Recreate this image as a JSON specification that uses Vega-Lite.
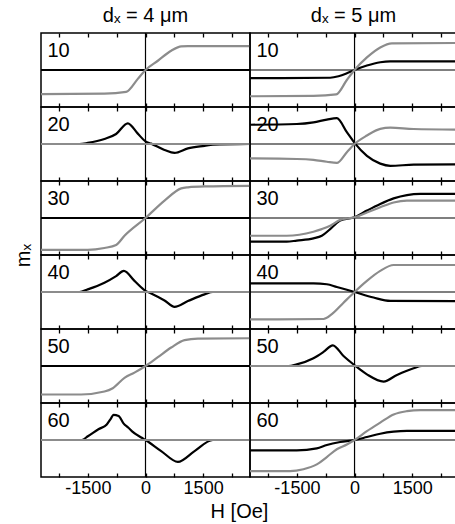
{
"$schema": "https://vega.github.io/schema/vega-lite/v6.json",
"padding": {"left": 13, "top": 5, "right": 0, "bottom": 2},
"background": "white",
"columns": 2, "spacing": 0, "bounds": "flush",
"datasets": {"curves": [
{"d":"4","a":"10","s":"b","H":-2720,"m":0},{"d":"4","a":"10","s":"b","H":2720,"m":0},
{"d":"4","a":"10","s":"g","H":-2720,"m":-0.65},{"d":"4","a":"10","s":"g","H":-1069,"m":-0.64},{"d":"4","a":"10","s":"g","H":-504,"m":-0.59},{"d":"4","a":"10","s":"g","H":-200,"m":-0.24},{"d":"4","a":"10","s":"g","H":0,"m":0},{"d":"4","a":"10","s":"g","H":322,"m":0.25},{"d":"4","a":"10","s":"g","H":669,"m":0.52},{"d":"4","a":"10","s":"g","H":930,"m":0.64},{"d":"4","a":"10","s":"g","H":1104,"m":0.645},{"d":"4","a":"10","s":"g","H":2720,"m":0.645},
{"d":"4","a":"20","s":"b","H":-2720,"m":0},{"d":"4","a":"20","s":"b","H":-1720,"m":0},{"d":"4","a":"20","s":"b","H":-1503,"m":0.03},{"d":"4","a":"20","s":"b","H":-1069,"m":0.135},{"d":"4","a":"20","s":"b","H":-765,"m":0.27},{"d":"4","a":"20","s":"b","H":-461,"m":0.56},{"d":"4","a":"20","s":"b","H":-200,"m":0.28},{"d":"4","a":"20","s":"b","H":0,"m":0.07},{"d":"4","a":"20","s":"b","H":148,"m":0.01},{"d":"4","a":"20","s":"b","H":495,"m":-0.16},{"d":"4","a":"20","s":"b","H":756,"m":-0.24},{"d":"4","a":"20","s":"b","H":1104,"m":-0.12},{"d":"4","a":"20","s":"b","H":1538,"m":-0.05},{"d":"4","a":"20","s":"b","H":1755,"m":-0.02},{"d":"4","a":"20","s":"b","H":2720,"m":0},
{"d":"4","a":"20","s":"g","H":-2720,"m":0},{"d":"4","a":"20","s":"g","H":2720,"m":0},
{"d":"4","a":"30","s":"b","H":-2720,"m":0},{"d":"4","a":"30","s":"b","H":2720,"m":0},
{"d":"4","a":"30","s":"g","H":-2720,"m":-0.86},{"d":"4","a":"30","s":"g","H":-1503,"m":-0.86},{"d":"4","a":"30","s":"g","H":-1069,"m":-0.81},{"d":"4","a":"30","s":"g","H":-765,"m":-0.73},{"d":"4","a":"30","s":"g","H":-547,"m":-0.48},{"d":"4","a":"30","s":"g","H":0,"m":0},{"d":"4","a":"30","s":"g","H":495,"m":0.47},{"d":"4","a":"30","s":"g","H":930,"m":0.8},{"d":"4","a":"30","s":"g","H":1104,"m":0.83},{"d":"4","a":"30","s":"g","H":1538,"m":0.855},{"d":"4","a":"30","s":"g","H":2720,"m":0.87},
{"d":"4","a":"40","s":"b","H":-2720,"m":0},{"d":"4","a":"40","s":"b","H":-1720,"m":0},{"d":"4","a":"40","s":"b","H":-1503,"m":0.07},{"d":"4","a":"40","s":"b","H":-1069,"m":0.25},{"d":"4","a":"40","s":"b","H":-765,"m":0.43},{"d":"4","a":"40","s":"b","H":-565,"m":0.57},{"d":"4","a":"40","s":"b","H":-287,"m":0.3},{"d":"4","a":"40","s":"b","H":0,"m":0.03},{"d":"4","a":"40","s":"b","H":148,"m":-0.04},{"d":"4","a":"40","s":"b","H":495,"m":-0.23},{"d":"4","a":"40","s":"b","H":756,"m":-0.4},{"d":"4","a":"40","s":"b","H":1104,"m":-0.245},{"d":"4","a":"40","s":"b","H":1538,"m":-0.065},{"d":"4","a":"40","s":"b","H":1755,"m":0},{"d":"4","a":"40","s":"b","H":2720,"m":0},
{"d":"4","a":"40","s":"g","H":-2720,"m":0},{"d":"4","a":"40","s":"g","H":2720,"m":0},
{"d":"4","a":"50","s":"b","H":-2720,"m":0},{"d":"4","a":"50","s":"b","H":2720,"m":0},
{"d":"4","a":"50","s":"g","H":-2720,"m":-0.77},{"d":"4","a":"50","s":"g","H":-1677,"m":-0.77},{"d":"4","a":"50","s":"g","H":-1069,"m":-0.69},{"d":"4","a":"50","s":"g","H":-852,"m":-0.6},{"d":"4","a":"50","s":"g","H":-547,"m":-0.32},{"d":"4","a":"50","s":"g","H":-287,"m":-0.18},{"d":"4","a":"50","s":"g","H":0,"m":0},{"d":"4","a":"50","s":"g","H":322,"m":0.24},{"d":"4","a":"50","s":"g","H":669,"m":0.5},{"d":"4","a":"50","s":"g","H":1017,"m":0.7},{"d":"4","a":"50","s":"g","H":1364,"m":0.74},{"d":"4","a":"50","s":"g","H":2720,"m":0.75},
{"d":"4","a":"60","s":"b","H":-2720,"m":0},{"d":"4","a":"60","s":"b","H":-1660,"m":0},{"d":"4","a":"60","s":"b","H":-1500,"m":0.1},{"d":"4","a":"60","s":"b","H":-1225,"m":0.29},{"d":"4","a":"60","s":"b","H":-1008,"m":0.42},{"d":"4","a":"60","s":"b","H":-900,"m":0.58},{"d":"4","a":"60","s":"b","H":-834,"m":0.68},{"d":"4","a":"60","s":"b","H":-700,"m":0.65},{"d":"4","a":"60","s":"b","H":-573,"m":0.45},{"d":"4","a":"60","s":"b","H":-443,"m":0.33},{"d":"4","a":"60","s":"b","H":-357,"m":0.24},{"d":"4","a":"60","s":"b","H":-96,"m":0.06},{"d":"4","a":"60","s":"b","H":0,"m":0},{"d":"4","a":"60","s":"b","H":408,"m":-0.3},{"d":"4","a":"60","s":"b","H":843,"m":-0.59},{"d":"4","a":"60","s":"b","H":1277,"m":-0.3},{"d":"4","a":"60","s":"b","H":1755,"m":0},{"d":"4","a":"60","s":"b","H":2720,"m":0},
{"d":"4","a":"60","s":"g","H":-2720,"m":0},{"d":"4","a":"60","s":"g","H":2720,"m":0},
{"d":"5","a":"10","s":"b","H":-2720,"m":-0.22},{"d":"5","a":"10","s":"b","H":-634,"m":-0.21},{"d":"5","a":"10","s":"b","H":-417,"m":-0.17},{"d":"5","a":"10","s":"b","H":-200,"m":-0.09},{"d":"5","a":"10","s":"b","H":0,"m":0},{"d":"5","a":"10","s":"b","H":322,"m":0.12},{"d":"5","a":"10","s":"b","H":669,"m":0.21},{"d":"5","a":"10","s":"b","H":930,"m":0.235},{"d":"5","a":"10","s":"b","H":2720,"m":0.235},
{"d":"5","a":"10","s":"g","H":-2720,"m":-0.71},{"d":"5","a":"10","s":"g","H":-1069,"m":-0.7},{"d":"5","a":"10","s":"g","H":-478,"m":-0.66},{"d":"5","a":"10","s":"g","H":-200,"m":-0.27},{"d":"5","a":"10","s":"g","H":0,"m":0},{"d":"5","a":"10","s":"g","H":322,"m":0.34},{"d":"5","a":"10","s":"g","H":669,"m":0.61},{"d":"5","a":"10","s":"g","H":973,"m":0.72},{"d":"5","a":"10","s":"g","H":2720,"m":0.73},
{"d":"5","a":"20","s":"b","H":-2720,"m":0.52},{"d":"5","a":"20","s":"b","H":-1503,"m":0.54},{"d":"5","a":"20","s":"b","H":-1069,"m":0.585},{"d":"5","a":"20","s":"b","H":-721,"m":0.66},{"d":"5","a":"20","s":"b","H":-461,"m":0.7},{"d":"5","a":"20","s":"b","H":-200,"m":0.32},{"d":"5","a":"20","s":"b","H":0,"m":0.03},{"d":"5","a":"20","s":"b","H":322,"m":-0.32},{"d":"5","a":"20","s":"b","H":669,"m":-0.53},{"d":"5","a":"20","s":"b","H":930,"m":-0.59},{"d":"5","a":"20","s":"b","H":1538,"m":-0.56},{"d":"5","a":"20","s":"b","H":2720,"m":-0.55},
{"d":"5","a":"20","s":"g","H":-2720,"m":-0.39},{"d":"5","a":"20","s":"g","H":-1503,"m":-0.405},{"d":"5","a":"20","s":"g","H":-1069,"m":-0.43},{"d":"5","a":"20","s":"g","H":-721,"m":-0.48},{"d":"5","a":"20","s":"g","H":-461,"m":-0.51},{"d":"5","a":"20","s":"g","H":-200,"m":-0.22},{"d":"5","a":"20","s":"g","H":0,"m":0},{"d":"5","a":"20","s":"g","H":322,"m":0.23},{"d":"5","a":"20","s":"g","H":669,"m":0.41},{"d":"5","a":"20","s":"g","H":930,"m":0.44},{"d":"5","a":"20","s":"g","H":1538,"m":0.405},{"d":"5","a":"20","s":"g","H":2720,"m":0.39},
{"d":"5","a":"30","s":"b","H":-2720,"m":-0.64},{"d":"5","a":"30","s":"b","H":-1764,"m":-0.64},{"d":"5","a":"30","s":"b","H":-1503,"m":-0.61},{"d":"5","a":"30","s":"b","H":-1069,"m":-0.55},{"d":"5","a":"30","s":"b","H":-852,"m":-0.48},{"d":"5","a":"30","s":"b","H":-634,"m":-0.3},{"d":"5","a":"30","s":"b","H":-374,"m":-0.07},{"d":"5","a":"30","s":"b","H":0,"m":0.02},{"d":"5","a":"30","s":"b","H":322,"m":0.2},{"d":"5","a":"30","s":"b","H":669,"m":0.38},{"d":"5","a":"30","s":"b","H":1017,"m":0.53},{"d":"5","a":"30","s":"b","H":1364,"m":0.62},{"d":"5","a":"30","s":"b","H":1712,"m":0.65},{"d":"5","a":"30","s":"b","H":2720,"m":0.65},
{"d":"5","a":"30","s":"g","H":-2720,"m":-0.48},{"d":"5","a":"30","s":"g","H":-1764,"m":-0.48},{"d":"5","a":"30","s":"g","H":-1069,"m":-0.37},{"d":"5","a":"30","s":"g","H":-852,"m":-0.3},{"d":"5","a":"30","s":"g","H":-634,"m":-0.21},{"d":"5","a":"30","s":"g","H":-374,"m":-0.05},{"d":"5","a":"30","s":"g","H":0,"m":0.02},{"d":"5","a":"30","s":"g","H":322,"m":0.15},{"d":"5","a":"30","s":"g","H":669,"m":0.29},{"d":"5","a":"30","s":"g","H":1017,"m":0.42},{"d":"5","a":"30","s":"g","H":1364,"m":0.47},{"d":"5","a":"30","s":"g","H":2720,"m":0.47},
{"d":"5","a":"40","s":"b","H":-2720,"m":0.235},{"d":"5","a":"40","s":"b","H":-1069,"m":0.235},{"d":"5","a":"40","s":"b","H":-721,"m":0.21},{"d":"5","a":"40","s":"b","H":-461,"m":0.135},{"d":"5","a":"40","s":"b","H":-200,"m":0.06},{"d":"5","a":"40","s":"b","H":0,"m":0},{"d":"5","a":"40","s":"b","H":495,"m":-0.15},{"d":"5","a":"40","s":"b","H":930,"m":-0.24},{"d":"5","a":"40","s":"b","H":2720,"m":-0.245},
{"d":"5","a":"40","s":"g","H":-2720,"m":-0.74},{"d":"5","a":"40","s":"g","H":-808,"m":-0.73},{"d":"5","a":"40","s":"g","H":-591,"m":-0.6},{"d":"5","a":"40","s":"g","H":-287,"m":-0.29},{"d":"5","a":"40","s":"g","H":0,"m":0},{"d":"5","a":"40","s":"g","H":322,"m":0.3},{"d":"5","a":"40","s":"g","H":669,"m":0.57},{"d":"5","a":"40","s":"g","H":1017,"m":0.73},{"d":"5","a":"40","s":"g","H":2720,"m":0.73},
{"d":"5","a":"50","s":"b","H":-2720,"m":0},{"d":"5","a":"50","s":"b","H":-1720,"m":0},{"d":"5","a":"50","s":"b","H":-1503,"m":0.045},{"d":"5","a":"50","s":"b","H":-1069,"m":0.21},{"d":"5","a":"50","s":"b","H":-808,"m":0.38},{"d":"5","a":"50","s":"b","H":-565,"m":0.56},{"d":"5","a":"50","s":"b","H":-287,"m":0.27},{"d":"5","a":"50","s":"b","H":0,"m":0.02},{"d":"5","a":"50","s":"b","H":322,"m":-0.225},{"d":"5","a":"50","s":"b","H":756,"m":-0.42},{"d":"5","a":"50","s":"b","H":1104,"m":-0.24},{"d":"5","a":"50","s":"b","H":1538,"m":-0.06},{"d":"5","a":"50","s":"b","H":1755,"m":0},{"d":"5","a":"50","s":"b","H":2720,"m":0},
{"d":"5","a":"50","s":"g","H":-2720,"m":0},{"d":"5","a":"50","s":"g","H":2720,"m":0},
{"d":"5","a":"60","s":"b","H":-2720,"m":-0.28},{"d":"5","a":"60","s":"b","H":-1503,"m":-0.28},{"d":"5","a":"60","s":"b","H":-982,"m":-0.225},{"d":"5","a":"60","s":"b","H":-721,"m":-0.135},{"d":"5","a":"60","s":"b","H":-374,"m":-0.055},{"d":"5","a":"60","s":"b","H":0,"m":0},{"d":"5","a":"60","s":"b","H":322,"m":0.08},{"d":"5","a":"60","s":"b","H":669,"m":0.17},{"d":"5","a":"60","s":"b","H":1017,"m":0.225},{"d":"5","a":"60","s":"b","H":1364,"m":0.245},{"d":"5","a":"60","s":"b","H":2720,"m":0.245},
{"d":"5","a":"60","s":"g","H":-2720,"m":-0.84},{"d":"5","a":"60","s":"g","H":-1677,"m":-0.84},{"d":"5","a":"60","s":"g","H":-1330,"m":-0.79},{"d":"5","a":"60","s":"g","H":-982,"m":-0.66},{"d":"5","a":"60","s":"g","H":-721,"m":-0.46},{"d":"5","a":"60","s":"g","H":-461,"m":-0.25},{"d":"5","a":"60","s":"g","H":-200,"m":-0.12},{"d":"5","a":"60","s":"g","H":0,"m":0},{"d":"5","a":"60","s":"g","H":322,"m":0.24},{"d":"5","a":"60","s":"g","H":669,"m":0.47},{"d":"5","a":"60","s":"g","H":1017,"m":0.69},{"d":"5","a":"60","s":"g","H":1364,"m":0.78},{"d":"5","a":"60","s":"g","H":1712,"m":0.81},{"d":"5","a":"60","s":"g","H":2720,"m":0.81}
]},
"concat": [
{"width":209,"height":74,"data":{"name":"curves"},"transform":[{"filter":"datum.d === '4' && datum.a === '10'"}],
 "title":{"text":"dₓ = 4 μm"},
 "layer":[
 {"transform":[{"aggregate":[{"op":"count","as":"n"}],"groupby":["a"]}],"mark":{"type":"rule","color":"black","strokeWidth":1.2},"encoding":{"y":{"datum":0,"axis":null}}},
 {"transform":[{"aggregate":[{"op":"count","as":"n"}],"groupby":["a"]}],"mark":{"type":"rule","color":"black","strokeWidth":1.2},"encoding":{"x":{"datum":0,"axis":null}}},
 {"transform":[{"filter":"datum.s === 'b'"}],"mark":{"type":"line","color":"black","strokeWidth":2.2,"interpolate":"monotone","clip":true},"encoding":{"x":{"field":"H","type":"quantitative","scale":{"domain":[-2720,2720],"nice":false,"zero":false},"axis":{"orient":"bottom","values":[-2250,-1500,-750,0,750,1500,2250],"labels":false,"title":null}},"y":{"field":"m","type":"quantitative","scale":{"domain":[-1,1],"nice":false,"zero":false},"axis":null}}},
 {"transform":[{"filter":"datum.s === 'g'"}],"mark":{"type":"line","color":"#8c8c8c","strokeWidth":2.2,"interpolate":"monotone","clip":true},"encoding":{"x":{"field":"H","type":"quantitative","scale":{"domain":[-2720,2720],"nice":false,"zero":false},"axis":{"orient":"top","values":[-2250,-1500,-750,0,750,1500,2250],"labels":false,"title":null}},"y":{"field":"m","type":"quantitative","axis":null}}},
 {"transform":[{"aggregate":[{"op":"count","as":"n"}],"groupby":["a"]}],"mark":{"type":"text","align":"left","baseline":"alphabetic","dx":6.5,"dy":24,"fontSize":20,"font":"Liberation Sans","color":"black"},"encoding":{"x":{"datum":-2720,"axis":null},"y":{"datum":1,"axis":null},"text":{"field":"a"}}}
 ]},
{"width":207,"height":74,"data":{"name":"curves"},"transform":[{"filter":"datum.d === '5' && datum.a === '10'"}],
 "title":{"text":"dₓ = 5 μm"},
 "layer":[
 {"transform":[{"aggregate":[{"op":"count","as":"n"}],"groupby":["a"]}],"mark":{"type":"rule","color":"black","strokeWidth":1.2},"encoding":{"y":{"datum":0,"axis":null}}},
 {"transform":[{"aggregate":[{"op":"count","as":"n"}],"groupby":["a"]}],"mark":{"type":"rule","color":"black","strokeWidth":1.2},"encoding":{"x":{"datum":0,"axis":null}}},
 {"transform":[{"filter":"datum.s === 'b'"}],"mark":{"type":"line","color":"black","strokeWidth":2.2,"interpolate":"monotone","clip":true},"encoding":{"x":{"field":"H","type":"quantitative","scale":{"domain":[-2720,2666],"nice":false,"zero":false},"axis":{"orient":"bottom","values":[-2250,-1500,-750,0,750,1500,2250],"labels":false,"title":null}},"y":{"field":"m","type":"quantitative","scale":{"domain":[-1,1],"nice":false,"zero":false},"axis":null}}},
 {"transform":[{"filter":"datum.s === 'g'"}],"mark":{"type":"line","color":"#8c8c8c","strokeWidth":2.2,"interpolate":"monotone","clip":true},"encoding":{"x":{"field":"H","type":"quantitative","scale":{"domain":[-2720,2666],"nice":false,"zero":false},"axis":{"orient":"top","values":[-2250,-1500,-750,0,750,1500,2250],"labels":false,"title":null}},"y":{"field":"m","type":"quantitative","axis":null}}},
 {"transform":[{"aggregate":[{"op":"count","as":"n"}],"groupby":["a"]}],"mark":{"type":"text","align":"left","baseline":"alphabetic","dx":6.5,"dy":24,"fontSize":20,"font":"Liberation Sans","color":"black"},"encoding":{"x":{"datum":-2720,"axis":null},"y":{"datum":1,"axis":null},"text":{"field":"a"}}}
 ]},
{"width":209,"height":74,"data":{"name":"curves"},"transform":[{"filter":"datum.d === '4' && datum.a === '20'"}],
 "layer":[
 {"transform":[{"aggregate":[{"op":"count","as":"n"}],"groupby":["a"]}],"mark":{"type":"rule","color":"black","strokeWidth":1.2},"encoding":{"y":{"datum":0,"axis":null}}},
 {"transform":[{"aggregate":[{"op":"count","as":"n"}],"groupby":["a"]}],"mark":{"type":"rule","color":"black","strokeWidth":1.2},"encoding":{"x":{"datum":0,"axis":null}}},
 {"transform":[{"filter":"datum.s === 'b'"}],"mark":{"type":"line","color":"black","strokeWidth":2.2,"interpolate":"monotone","clip":true},"encoding":{"x":{"field":"H","type":"quantitative","scale":{"domain":[-2720,2720],"nice":false,"zero":false},"axis":{"orient":"bottom","values":[-2250,-1500,-750,0,750,1500,2250],"labels":false,"title":null}},"y":{"field":"m","type":"quantitative","scale":{"domain":[-1,1],"nice":false,"zero":false},"axis":null}}},
 {"transform":[{"filter":"datum.s === 'g'"}],"mark":{"type":"line","color":"#8c8c8c","strokeWidth":2.2,"interpolate":"monotone","clip":true},"encoding":{"x":{"field":"H","type":"quantitative","scale":{"domain":[-2720,2720],"nice":false,"zero":false},"axis":{"orient":"top","values":[-2250,-1500,-750,0,750,1500,2250],"labels":false,"title":null}},"y":{"field":"m","type":"quantitative","axis":null}}},
 {"transform":[{"aggregate":[{"op":"count","as":"n"}],"groupby":["a"]}],"mark":{"type":"text","align":"left","baseline":"alphabetic","dx":6.5,"dy":24,"fontSize":20,"font":"Liberation Sans","color":"black"},"encoding":{"x":{"datum":-2720,"axis":null},"y":{"datum":1,"axis":null},"text":{"field":"a"}}}
 ]},
{"width":207,"height":74,"data":{"name":"curves"},"transform":[{"filter":"datum.d === '5' && datum.a === '20'"}],
 "layer":[
 {"transform":[{"aggregate":[{"op":"count","as":"n"}],"groupby":["a"]}],"mark":{"type":"rule","color":"black","strokeWidth":1.2},"encoding":{"y":{"datum":0,"axis":null}}},
 {"transform":[{"aggregate":[{"op":"count","as":"n"}],"groupby":["a"]}],"mark":{"type":"rule","color":"black","strokeWidth":1.2},"encoding":{"x":{"datum":0,"axis":null}}},
 {"transform":[{"filter":"datum.s === 'b'"}],"mark":{"type":"line","color":"black","strokeWidth":2.2,"interpolate":"monotone","clip":true},"encoding":{"x":{"field":"H","type":"quantitative","scale":{"domain":[-2720,2666],"nice":false,"zero":false},"axis":{"orient":"bottom","values":[-2250,-1500,-750,0,750,1500,2250],"labels":false,"title":null}},"y":{"field":"m","type":"quantitative","scale":{"domain":[-1,1],"nice":false,"zero":false},"axis":null}}},
 {"transform":[{"filter":"datum.s === 'g'"}],"mark":{"type":"line","color":"#8c8c8c","strokeWidth":2.2,"interpolate":"monotone","clip":true},"encoding":{"x":{"field":"H","type":"quantitative","scale":{"domain":[-2720,2666],"nice":false,"zero":false},"axis":{"orient":"top","values":[-2250,-1500,-750,0,750,1500,2250],"labels":false,"title":null}},"y":{"field":"m","type":"quantitative","axis":null}}},
 {"transform":[{"aggregate":[{"op":"count","as":"n"}],"groupby":["a"]}],"mark":{"type":"text","align":"left","baseline":"alphabetic","dx":6.5,"dy":24,"fontSize":20,"font":"Liberation Sans","color":"black"},"encoding":{"x":{"datum":-2720,"axis":null},"y":{"datum":1,"axis":null},"text":{"field":"a"}}}
 ]},
{"width":209,"height":74,"data":{"name":"curves"},"transform":[{"filter":"datum.d === '4' && datum.a === '30'"}],
 "title":{"text":"mₓ","orient":"left","anchor":"start","align":"center","offset":6},
 "layer":[
 {"transform":[{"aggregate":[{"op":"count","as":"n"}],"groupby":["a"]}],"mark":{"type":"rule","color":"black","strokeWidth":1.2},"encoding":{"y":{"datum":0,"axis":null}}},
 {"transform":[{"aggregate":[{"op":"count","as":"n"}],"groupby":["a"]}],"mark":{"type":"rule","color":"black","strokeWidth":1.2},"encoding":{"x":{"datum":0,"axis":null}}},
 {"transform":[{"filter":"datum.s === 'b'"}],"mark":{"type":"line","color":"black","strokeWidth":2.2,"interpolate":"monotone","clip":true},"encoding":{"x":{"field":"H","type":"quantitative","scale":{"domain":[-2720,2720],"nice":false,"zero":false},"axis":{"orient":"bottom","values":[-2250,-1500,-750,0,750,1500,2250],"labels":false,"title":null}},"y":{"field":"m","type":"quantitative","scale":{"domain":[-1,1],"nice":false,"zero":false},"axis":null}}},
 {"transform":[{"filter":"datum.s === 'g'"}],"mark":{"type":"line","color":"#8c8c8c","strokeWidth":2.2,"interpolate":"monotone","clip":true},"encoding":{"x":{"field":"H","type":"quantitative","scale":{"domain":[-2720,2720],"nice":false,"zero":false},"axis":{"orient":"top","values":[-2250,-1500,-750,0,750,1500,2250],"labels":false,"title":null}},"y":{"field":"m","type":"quantitative","axis":null}}},
 {"transform":[{"aggregate":[{"op":"count","as":"n"}],"groupby":["a"]}],"mark":{"type":"text","align":"left","baseline":"alphabetic","dx":6.5,"dy":24,"fontSize":20,"font":"Liberation Sans","color":"black"},"encoding":{"x":{"datum":-2720,"axis":null},"y":{"datum":1,"axis":null},"text":{"field":"a"}}}
 ]},
{"width":207,"height":74,"data":{"name":"curves"},"transform":[{"filter":"datum.d === '5' && datum.a === '30'"}],
 "layer":[
 {"transform":[{"aggregate":[{"op":"count","as":"n"}],"groupby":["a"]}],"mark":{"type":"rule","color":"black","strokeWidth":1.2},"encoding":{"y":{"datum":0,"axis":null}}},
 {"transform":[{"aggregate":[{"op":"count","as":"n"}],"groupby":["a"]}],"mark":{"type":"rule","color":"black","strokeWidth":1.2},"encoding":{"x":{"datum":0,"axis":null}}},
 {"transform":[{"filter":"datum.s === 'b'"}],"mark":{"type":"line","color":"black","strokeWidth":2.2,"interpolate":"monotone","clip":true},"encoding":{"x":{"field":"H","type":"quantitative","scale":{"domain":[-2720,2666],"nice":false,"zero":false},"axis":{"orient":"bottom","values":[-2250,-1500,-750,0,750,1500,2250],"labels":false,"title":null}},"y":{"field":"m","type":"quantitative","scale":{"domain":[-1,1],"nice":false,"zero":false},"axis":null}}},
 {"transform":[{"filter":"datum.s === 'g'"}],"mark":{"type":"line","color":"#8c8c8c","strokeWidth":2.2,"interpolate":"monotone","clip":true},"encoding":{"x":{"field":"H","type":"quantitative","scale":{"domain":[-2720,2666],"nice":false,"zero":false},"axis":{"orient":"top","values":[-2250,-1500,-750,0,750,1500,2250],"labels":false,"title":null}},"y":{"field":"m","type":"quantitative","axis":null}}},
 {"transform":[{"aggregate":[{"op":"count","as":"n"}],"groupby":["a"]}],"mark":{"type":"text","align":"left","baseline":"alphabetic","dx":6.5,"dy":24,"fontSize":20,"font":"Liberation Sans","color":"black"},"encoding":{"x":{"datum":-2720,"axis":null},"y":{"datum":1,"axis":null},"text":{"field":"a"}}}
 ]},
{"width":209,"height":74,"data":{"name":"curves"},"transform":[{"filter":"datum.d === '4' && datum.a === '40'"}],
 "layer":[
 {"transform":[{"aggregate":[{"op":"count","as":"n"}],"groupby":["a"]}],"mark":{"type":"rule","color":"black","strokeWidth":1.2},"encoding":{"y":{"datum":0,"axis":null}}},
 {"transform":[{"aggregate":[{"op":"count","as":"n"}],"groupby":["a"]}],"mark":{"type":"rule","color":"black","strokeWidth":1.2},"encoding":{"x":{"datum":0,"axis":null}}},
 {"transform":[{"filter":"datum.s === 'b'"}],"mark":{"type":"line","color":"black","strokeWidth":2.2,"interpolate":"monotone","clip":true},"encoding":{"x":{"field":"H","type":"quantitative","scale":{"domain":[-2720,2720],"nice":false,"zero":false},"axis":{"orient":"bottom","values":[-2250,-1500,-750,0,750,1500,2250],"labels":false,"title":null}},"y":{"field":"m","type":"quantitative","scale":{"domain":[-1,1],"nice":false,"zero":false},"axis":null}}},
 {"transform":[{"filter":"datum.s === 'g'"}],"mark":{"type":"line","color":"#8c8c8c","strokeWidth":2.2,"interpolate":"monotone","clip":true},"encoding":{"x":{"field":"H","type":"quantitative","scale":{"domain":[-2720,2720],"nice":false,"zero":false},"axis":{"orient":"top","values":[-2250,-1500,-750,0,750,1500,2250],"labels":false,"title":null}},"y":{"field":"m","type":"quantitative","axis":null}}},
 {"transform":[{"aggregate":[{"op":"count","as":"n"}],"groupby":["a"]}],"mark":{"type":"text","align":"left","baseline":"alphabetic","dx":6.5,"dy":24,"fontSize":20,"font":"Liberation Sans","color":"black"},"encoding":{"x":{"datum":-2720,"axis":null},"y":{"datum":1,"axis":null},"text":{"field":"a"}}}
 ]},
{"width":207,"height":74,"data":{"name":"curves"},"transform":[{"filter":"datum.d === '5' && datum.a === '40'"}],
 "layer":[
 {"transform":[{"aggregate":[{"op":"count","as":"n"}],"groupby":["a"]}],"mark":{"type":"rule","color":"black","strokeWidth":1.2},"encoding":{"y":{"datum":0,"axis":null}}},
 {"transform":[{"aggregate":[{"op":"count","as":"n"}],"groupby":["a"]}],"mark":{"type":"rule","color":"black","strokeWidth":1.2},"encoding":{"x":{"datum":0,"axis":null}}},
 {"transform":[{"filter":"datum.s === 'b'"}],"mark":{"type":"line","color":"black","strokeWidth":2.2,"interpolate":"monotone","clip":true},"encoding":{"x":{"field":"H","type":"quantitative","scale":{"domain":[-2720,2666],"nice":false,"zero":false},"axis":{"orient":"bottom","values":[-2250,-1500,-750,0,750,1500,2250],"labels":false,"title":null}},"y":{"field":"m","type":"quantitative","scale":{"domain":[-1,1],"nice":false,"zero":false},"axis":null}}},
 {"transform":[{"filter":"datum.s === 'g'"}],"mark":{"type":"line","color":"#8c8c8c","strokeWidth":2.2,"interpolate":"monotone","clip":true},"encoding":{"x":{"field":"H","type":"quantitative","scale":{"domain":[-2720,2666],"nice":false,"zero":false},"axis":{"orient":"top","values":[-2250,-1500,-750,0,750,1500,2250],"labels":false,"title":null}},"y":{"field":"m","type":"quantitative","axis":null}}},
 {"transform":[{"aggregate":[{"op":"count","as":"n"}],"groupby":["a"]}],"mark":{"type":"text","align":"left","baseline":"alphabetic","dx":6.5,"dy":24,"fontSize":20,"font":"Liberation Sans","color":"black"},"encoding":{"x":{"datum":-2720,"axis":null},"y":{"datum":1,"axis":null},"text":{"field":"a"}}}
 ]},
{"width":209,"height":74,"data":{"name":"curves"},"transform":[{"filter":"datum.d === '4' && datum.a === '50'"}],
 "layer":[
 {"transform":[{"aggregate":[{"op":"count","as":"n"}],"groupby":["a"]}],"mark":{"type":"rule","color":"black","strokeWidth":1.2},"encoding":{"y":{"datum":0,"axis":null}}},
 {"transform":[{"aggregate":[{"op":"count","as":"n"}],"groupby":["a"]}],"mark":{"type":"rule","color":"black","strokeWidth":1.2},"encoding":{"x":{"datum":0,"axis":null}}},
 {"transform":[{"filter":"datum.s === 'b'"}],"mark":{"type":"line","color":"black","strokeWidth":2.2,"interpolate":"monotone","clip":true},"encoding":{"x":{"field":"H","type":"quantitative","scale":{"domain":[-2720,2720],"nice":false,"zero":false},"axis":{"orient":"bottom","values":[-2250,-1500,-750,0,750,1500,2250],"labels":false,"title":null}},"y":{"field":"m","type":"quantitative","scale":{"domain":[-1,1],"nice":false,"zero":false},"axis":null}}},
 {"transform":[{"filter":"datum.s === 'g'"}],"mark":{"type":"line","color":"#8c8c8c","strokeWidth":2.2,"interpolate":"monotone","clip":true},"encoding":{"x":{"field":"H","type":"quantitative","scale":{"domain":[-2720,2720],"nice":false,"zero":false},"axis":{"orient":"top","values":[-2250,-1500,-750,0,750,1500,2250],"labels":false,"title":null}},"y":{"field":"m","type":"quantitative","axis":null}}},
 {"transform":[{"aggregate":[{"op":"count","as":"n"}],"groupby":["a"]}],"mark":{"type":"text","align":"left","baseline":"alphabetic","dx":6.5,"dy":24,"fontSize":20,"font":"Liberation Sans","color":"black"},"encoding":{"x":{"datum":-2720,"axis":null},"y":{"datum":1,"axis":null},"text":{"field":"a"}}}
 ]},
{"width":207,"height":74,"data":{"name":"curves"},"transform":[{"filter":"datum.d === '5' && datum.a === '50'"}],
 "layer":[
 {"transform":[{"aggregate":[{"op":"count","as":"n"}],"groupby":["a"]}],"mark":{"type":"rule","color":"black","strokeWidth":1.2},"encoding":{"y":{"datum":0,"axis":null}}},
 {"transform":[{"aggregate":[{"op":"count","as":"n"}],"groupby":["a"]}],"mark":{"type":"rule","color":"black","strokeWidth":1.2},"encoding":{"x":{"datum":0,"axis":null}}},
 {"transform":[{"filter":"datum.s === 'b'"}],"mark":{"type":"line","color":"black","strokeWidth":2.2,"interpolate":"monotone","clip":true},"encoding":{"x":{"field":"H","type":"quantitative","scale":{"domain":[-2720,2666],"nice":false,"zero":false},"axis":{"orient":"bottom","values":[-2250,-1500,-750,0,750,1500,2250],"labels":false,"title":null}},"y":{"field":"m","type":"quantitative","scale":{"domain":[-1,1],"nice":false,"zero":false},"axis":null}}},
 {"transform":[{"filter":"datum.s === 'g'"}],"mark":{"type":"line","color":"#8c8c8c","strokeWidth":2.2,"interpolate":"monotone","clip":true},"encoding":{"x":{"field":"H","type":"quantitative","scale":{"domain":[-2720,2666],"nice":false,"zero":false},"axis":{"orient":"top","values":[-2250,-1500,-750,0,750,1500,2250],"labels":false,"title":null}},"y":{"field":"m","type":"quantitative","axis":null}}},
 {"transform":[{"aggregate":[{"op":"count","as":"n"}],"groupby":["a"]}],"mark":{"type":"text","align":"left","baseline":"alphabetic","dx":6.5,"dy":24,"fontSize":20,"font":"Liberation Sans","color":"black"},"encoding":{"x":{"datum":-2720,"axis":null},"y":{"datum":1,"axis":null},"text":{"field":"a"}}}
 ]},
{"width":209,"height":74,"data":{"name":"curves"},"transform":[{"filter":"datum.d === '4' && datum.a === '60'"}],
 "layer":[
 {"transform":[{"aggregate":[{"op":"count","as":"n"}],"groupby":["a"]}],"mark":{"type":"rule","color":"black","strokeWidth":1.2},"encoding":{"y":{"datum":0,"axis":null}}},
 {"transform":[{"aggregate":[{"op":"count","as":"n"}],"groupby":["a"]}],"mark":{"type":"rule","color":"black","strokeWidth":1.2},"encoding":{"x":{"datum":0,"axis":null}}},
 {"transform":[{"filter":"datum.s === 'b'"}],"mark":{"type":"line","color":"black","strokeWidth":2.2,"interpolate":"monotone","clip":true},"encoding":{"x":{"field":"H","type":"quantitative","scale":{"domain":[-2720,2720],"nice":false,"zero":false},"axis":{"orient":"bottom","values":[-2250,-1500,-750,0,750,1500,2250],"labelExpr":"datum.value % 1500 === 0 ? replace(format(datum.value, 'd'), '\u2212', '-') : ''","labelPadding":6,"title":"H [Oe]","titleX":198}},"y":{"field":"m","type":"quantitative","scale":{"domain":[-1,1],"nice":false,"zero":false},"axis":null}}},
 {"transform":[{"filter":"datum.s === 'g'"}],"mark":{"type":"line","color":"#8c8c8c","strokeWidth":2.2,"interpolate":"monotone","clip":true},"encoding":{"x":{"field":"H","type":"quantitative","scale":{"domain":[-2720,2720],"nice":false,"zero":false},"axis":{"orient":"top","values":[-2250,-1500,-750,0,750,1500,2250],"labels":false,"title":null}},"y":{"field":"m","type":"quantitative","axis":null}}},
 {"transform":[{"aggregate":[{"op":"count","as":"n"}],"groupby":["a"]}],"mark":{"type":"text","align":"left","baseline":"alphabetic","dx":6.5,"dy":24,"fontSize":20,"font":"Liberation Sans","color":"black"},"encoding":{"x":{"datum":-2720,"axis":null},"y":{"datum":1,"axis":null},"text":{"field":"a"}}}
 ]},
{"width":207,"height":74,"data":{"name":"curves"},"transform":[{"filter":"datum.d === '5' && datum.a === '60'"}],
 "layer":[
 {"transform":[{"aggregate":[{"op":"count","as":"n"}],"groupby":["a"]}],"mark":{"type":"rule","color":"black","strokeWidth":1.2},"encoding":{"y":{"datum":0,"axis":null}}},
 {"transform":[{"aggregate":[{"op":"count","as":"n"}],"groupby":["a"]}],"mark":{"type":"rule","color":"black","strokeWidth":1.2},"encoding":{"x":{"datum":0,"axis":null}}},
 {"transform":[{"filter":"datum.s === 'b'"}],"mark":{"type":"line","color":"black","strokeWidth":2.2,"interpolate":"monotone","clip":true},"encoding":{"x":{"field":"H","type":"quantitative","scale":{"domain":[-2720,2666],"nice":false,"zero":false},"axis":{"orient":"bottom","values":[-2250,-1500,-750,0,750,1500,2250],"labelExpr":"datum.value % 1500 === 0 ? replace(format(datum.value, 'd'), '\u2212', '-') : ''","labelPadding":6,"title":null}},"y":{"field":"m","type":"quantitative","scale":{"domain":[-1,1],"nice":false,"zero":false},"axis":null}}},
 {"transform":[{"filter":"datum.s === 'g'"}],"mark":{"type":"line","color":"#8c8c8c","strokeWidth":2.2,"interpolate":"monotone","clip":true},"encoding":{"x":{"field":"H","type":"quantitative","scale":{"domain":[-2720,2666],"nice":false,"zero":false},"axis":{"orient":"top","values":[-2250,-1500,-750,0,750,1500,2250],"labels":false,"title":null}},"y":{"field":"m","type":"quantitative","axis":null}}},
 {"transform":[{"aggregate":[{"op":"count","as":"n"}],"groupby":["a"]}],"mark":{"type":"text","align":"left","baseline":"alphabetic","dx":6.5,"dy":24,"fontSize":20,"font":"Liberation Sans","color":"black"},"encoding":{"x":{"datum":-2720,"axis":null},"y":{"datum":1,"axis":null},"text":{"field":"a"}}}
 ]}
],
"config": {
 "font": "Liberation Sans",
 "view": {"stroke": "black", "strokeWidth": 1.5},
 "axis": {"grid": false, "domain": false, "tickColor": "black", "tickWidth": 1.3, "tickSize": -4,
   "labelFont": "Liberation Sans", "labelFontSize": 18, "labelColor": "black", "labelOverlap": false, "labelFlush": false,
   "titleFont": "Liberation Sans", "titleFontSize": 20, "titleFontWeight": "normal", "titleColor": "black"},
 "title": {"font": "Liberation Sans", "fontSize": 20, "fontWeight": "normal", "color": "black", "offset": 6}
}
}
